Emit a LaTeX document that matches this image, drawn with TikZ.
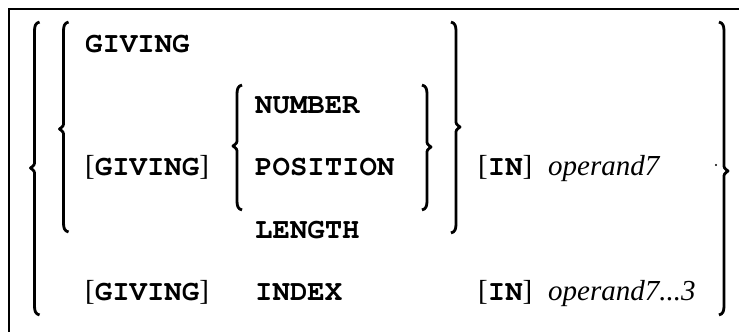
\documentclass[tikz,border=0pt]{standalone}
\usepackage{fontspec}
\setmainfont{Liberation Serif}
\setmonofont{TeX Gyre Cursor}
% kw: bold monospaced keyword
\newcommand{\kw}[1]{{\ttfamily\bfseries #1}}
% Curly braces drawn as paths: x, top, tip, bottom
\newcommand{\LeftCurl}[4]{%
  \draw[curl] ({#1+5},{#2}) .. controls ({#1+1},{#2+1}) and ({#1},{#2+4}) .. ({#1},{#2+9})
    -- ({#1},{#3-7}) .. controls ({#1},{#3-3}) .. ({#1-4},{#3})
    .. controls ({#1},{#3+3}) .. ({#1},{#3+7})
    -- ({#1},{#4-9}) .. controls ({#1},{#4-4}) and ({#1+1},{#4-1}) .. ({#1+5},{#4});}
\newcommand{\RightCurl}[4]{%
  \draw[curl] ({#1-5},{#2}) .. controls ({#1-1},{#2+1}) and ({#1},{#2+4}) .. ({#1},{#2+9})
    -- ({#1},{#3-7}) .. controls ({#1},{#3-3}) .. ({#1+4},{#3})
    .. controls ({#1},{#3+3}) .. ({#1},{#3+7})
    -- ({#1},{#4-9}) .. controls ({#1},{#4-4}) and ({#1-1},{#4-1}) .. ({#1-5},{#4});}
\tikzset{
  curl/.style={line width=2.8pt, line join=round},
  frameline/.style={line width=2pt},
  txt/.style={anchor=base west, inner sep=0pt, font=\fontsize{29}{29}\selectfont},
}
\begin{document}
\begin{tikzpicture}[x=1pt, y=-1pt]
\useasboundingbox (0,0) rectangle (739,332);
% frame (top and left edges)
\draw[frameline] (9,333) -- (9,8.5) -- (740,8.5);
% braces
\LeftCurl{34.5}{22}{168}{315}
\LeftCurl{63.5}{22}{129}{232}
\LeftCurl{237}{85}{146}{210}
\RightCurl{427}{85}{147}{210}
\RightCurl{456}{22}{127}{233}
\RightCurl{724}{22}{171}{315}
% small dot
\fill (716,165) circle (1.2);
% text
\node[txt] (g1) at (85,52) {\kw{GIVING}};
\node[txt] (num) at (255,113) {\kw{NUMBER}};
\node[txt] (g2) at (85,175) {[\kw{GIVING}]};
\node[txt] (pos) at (255,175) {\kw{POSITION}};
\node[txt] (in1) at (478,175) {[\kw{IN}]};
\node[txt] (op1) at (548,175) {\itshape operand7};
\node[txt] (len) at (255,238) {\kw{LENGTH}};
\node[txt] (g3) at (85,300) {[\kw{GIVING}]};
\node[txt] (idx) at (255,300) {\kw{INDEX}};
\node[txt] (in2) at (478,300) {[\kw{IN}]};
\node[txt] (op2) at (548,300) {\itshape operand7...3};
\end{tikzpicture}
\end{document}
